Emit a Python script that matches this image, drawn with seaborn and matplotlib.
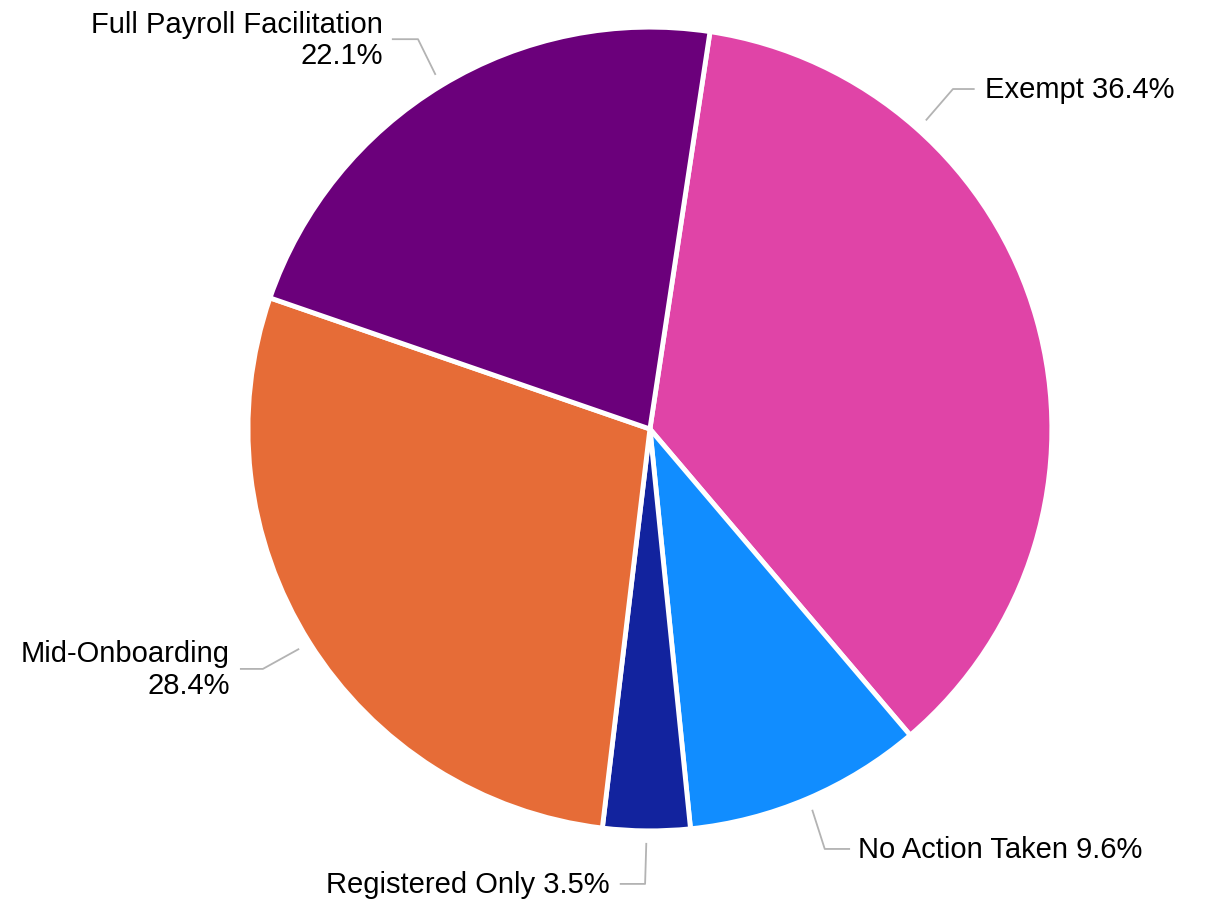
import numpy as np
import seaborn as sns
import matplotlib.pyplot as plt

# data, clockwise from the top
categories = ['Exempt', 'No Action Taken', 'Registered Only', 'Mid-Onboarding', 'Full Payroll Facilitation']
shares = [36.4, 9.6, 3.5, 28.4, 22.1]
colors = ['#E044A7', '#118DFF', '#12239E', '#E66C37', '#6B007B']

sns.set_theme(style='white')
plt.rcParams['font.family'] = ['Liberation Sans', 'DejaVu Sans']

fig = plt.figure(figsize=(12.11, 9.03), dpi=100)
ax = fig.add_axes([0, 0, 1, 1])

wedges, _ = ax.pie(shares, colors=colors, startangle=81.4, counterclock=False,
                   radius=1.0, wedgeprops=dict(edgecolor='white', linewidth=3.5))

ax.set_xlim(-1.617, 1.396)
ax.set_ylim(-1.177, 1.070)
ax.set_aspect('auto')
ax.axis('off')

# label layout: (anchor angle override, elbow, line end, text x, ha, two lines?)
layout = {
    'Exempt': (48.2, (0.754, 0.846), (0.808, 0.846), 0.833, 'left', False),
    'No Action Taken': (None, (0.435, -1.045), (0.498, -1.045), 0.517, 'left', False),
    'Registered Only': (None, (-0.012, -1.132), (-0.075, -1.132), -0.10, 'right', False),
    'Mid-Onboarding': (None, (-0.963, -0.597), (-1.02, -0.597), -1.045, 'right', True),
    'Full Payroll Facilitation': (None, (-0.577, 0.970), (-0.642, 0.970), -0.664, 'right', True),
}

line_col = '#B3B3B3'
for w, name, val in zip(wedges, categories, shares):
    ang_over, elbow, end, tx, ha, two = layout[name]
    ang = ang_over if ang_over is not None else (w.theta1 + w.theta2) / 2
    a = np.deg2rad(ang)
    sx, sy = 1.03 * np.cos(a), 1.03 * np.sin(a)
    ax.plot([sx, elbow[0], end[0]], [sy, elbow[1], end[1]], color=line_col, lw=1.3,
            solid_capstyle='butt', clip_on=False)
    txt = f'{name}\n{val:.1f}%' if two else f'{name} {val:.1f}%'
    ax.text(tx, end[1], txt, ha=ha, va='center', multialignment='right',
            fontsize=21, color='black', linespacing=1.15)

fig.savefig('out.png', dpi=100, facecolor='white')
